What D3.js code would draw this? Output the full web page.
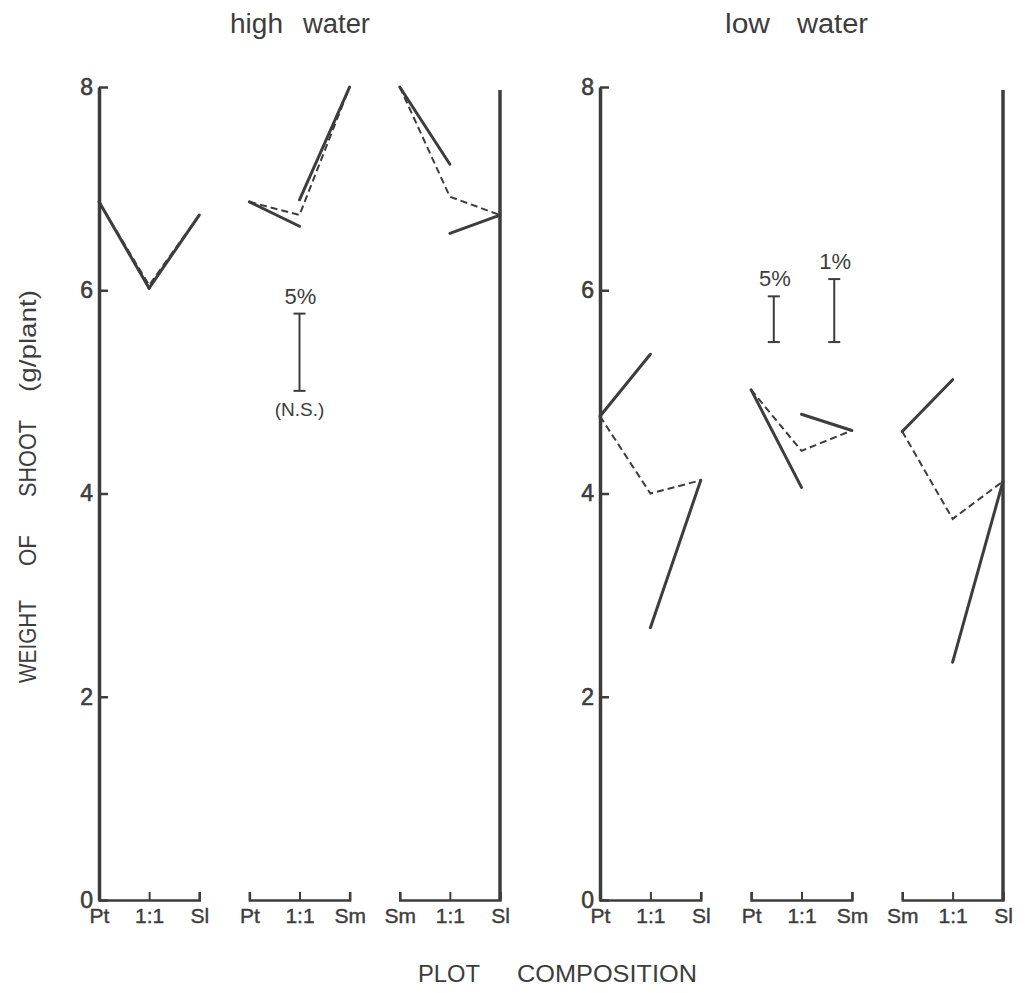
<!DOCTYPE html>
<html><head><meta charset="utf-8">
<script src="https://cdn.jsdelivr.net/npm/d3@7"></script>
<style>
body{margin:0;background:#fff;}
text{font-family:"Liberation Sans",Arial,sans-serif;fill:#3d3d3d;}
</style></head>
<body><svg id="c" width="1026" height="993"></svg>
<script>
// ---- data ----
const panelTitles = ["high", "water", "low", "water"];
const groupCategories = [["Pt","1:1","Sl"],["Pt","1:1","Sm"],["Sm","1:1","Sl"]];
const yTicks = [0, 2, 4, 6, 8];
// per group: monoculture A, A in 1:1 mixture, B in 1:1 mixture, monoculture B
const highMonoA = [6.87, 6.87, 8.00];
const highMixA  = [6.02, 6.63, 7.24];
const highMixB  = [6.02, 6.89, 6.56];
const highMonoB = [6.74, 8.00, 6.74];
const highMean  = [6.05, 6.74, 6.92];
const lowMonoA  = [4.76, 5.02, 4.61];
const lowMixA   = [5.37, 4.06, 5.12];
const lowMixB   = [2.68, 4.78, 2.34];
const lowMonoB  = [4.13, 4.62, 4.12];
const lowMean   = [4.00, 4.42, 3.75];
// LSD bars
const highLSD = [{slot:4, lo:5.01, hi:5.77, top:"5%", bottom:"(N.S.)"}];
const lowLSD  = [{slot:3.45, lo:5.49, hi:5.94, top:"5%", bottom:""},
                 {slot:4.65, lo:5.49, hi:6.11, top:"1%", bottom:""}];
const yTitleWords = ["WEIGHT", "OF", "SHOOT", "(g/plant)"];
const xTitleWords = ["PLOT", "COMPOSITION"];

const ink = "#3d3d3d";
const svg = d3.select("#c");
const y = d3.scaleLinear().domain([0, 8]).range([900, 87]);

const panels = [
  {words:[panelTitles[0], panelTitles[1]], wordX:[[230,283],[303,370]], range:[99, 500], monoA:highMonoA, mixA:highMixA, mixB:highMixB, monoB:highMonoB, mean:highMean, lsd:highLSD},
  {words:[panelTitles[2], panelTitles[3]], wordX:[[725,770],[797,868]], range:[600, 1003], monoA:lowMonoA, mixA:lowMixA, mixB:lowMixB, monoB:lowMonoB, mean:lowMean, lsd:lowLSD}
];

const line = d3.line();

function fitText(sel, x0, x1, yy, size, txt) {
  sel.append("text").attr("x", x0).attr("y", yy).attr("font-size", size)
    .attr("textLength", x1 - x0).attr("lengthAdjust", "spacingAndGlyphs").text(txt);
}

panels.forEach(p => {
  const x = d3.scaleLinear().domain([0, 8]).range(p.range);
  const g = svg.append("g");

  // title
  p.words.forEach((w, i) => fitText(g, p.wordX[i][0], p.wordX[i][1], 33, 27, w));

  // y axis
  const ya = g.append("g").attr("transform", `translate(${x(0)},0)`)
    .call(d3.axisLeft(y).tickValues(yTicks).tickSizeInner(-9).tickSizeOuter(0).tickPadding(6).tickFormat(d3.format("d")));
  ya.select(".domain").attr("stroke", ink).attr("stroke-width", 3.5);
  ya.selectAll(".tick line").attr("stroke", ink).attr("stroke-width", 2.5);
  ya.selectAll(".tick text").attr("font-size", 23).style("fill", ink)
    .attr("stroke", ink).attr("stroke-width", 0.6)
    .attr("font-family", "Liberation Sans, sans-serif");

  // right frame line
  g.append("line").attr("x1", x(8)).attr("x2", x(8)).attr("y1", y(7.97)).attr("y2", y(0))
    .attr("stroke", ink).attr("stroke-width", 3.5);

  // group baselines with category ticks
  groupCategories.forEach((cats, gi) => {
    const xs = d3.scalePoint().domain(cats).range([x(gi*3), x(gi*3+2)]);
    const ax = g.append("g").attr("transform", `translate(0,${y(0)})`)
      .call(d3.axisBottom(xs).tickSizeInner(-8).tickSizeOuter(-8).tickPadding(8));
    ax.select(".domain").attr("stroke", ink).attr("stroke-width", 2.5);
    ax.selectAll(".tick line").attr("stroke", ink).attr("stroke-width", 2);
    ax.selectAll(".tick text").attr("font-size", 21).style("fill", ink)
      .attr("stroke", ink).attr("stroke-width", 0.4)
      .attr("font-family", "Liberation Sans, sans-serif");

    // data lines
    const s0 = gi*3, s1 = gi*3+1, s2 = gi*3+2;
    g.append("path").attr("d", line([[x(s0), y(p.monoA[gi])], [x(s1), y(p.mixA[gi])]]))
      .attr("fill","none").attr("stroke", ink).attr("stroke-width", 3).attr("stroke-linecap","round");
    g.append("path").attr("d", line([[x(s1), y(p.mixB[gi])], [x(s2), y(p.monoB[gi])]]))
      .attr("fill","none").attr("stroke", ink).attr("stroke-width", 3).attr("stroke-linecap","round");
    g.append("path").attr("d", line([[x(s0), y(p.monoA[gi])], [x(s1), y(p.mean[gi])], [x(s2), y(p.monoB[gi])]]))
      .attr("fill","none").attr("stroke", ink).attr("stroke-width", 2).attr("stroke-dasharray","7,4");
  });

  // LSD bars
  p.lsd.forEach(b => {
    const bx = x(b.slot);
    g.append("line").attr("x1", bx).attr("x2", bx).attr("y1", y(b.lo)).attr("y2", y(b.hi)).attr("stroke", ink).attr("stroke-width", 2);
    [b.lo, b.hi].forEach(v => g.append("line").attr("x1", bx-6).attr("x2", bx+6).attr("y1", y(v)).attr("y2", y(v)).attr("stroke", ink).attr("stroke-width", 2));
    g.append("text").attr("x", bx + 1).attr("y", y(b.hi) - 10).attr("text-anchor","middle").attr("font-size", 22).text(b.top);
    if (b.bottom) g.append("text").attr("x", bx).attr("y", y(b.lo) + 25).attr("text-anchor","middle").attr("font-size", 19).text(b.bottom);
  });
});

// y axis title (rotated), words placed along the axis
const yWordSpans = [[600, 683], [535, 566], [420, 497], [290, 392]];
const yt = svg.append("g").attr("transform", "translate(36,0) rotate(-90)");
yTitleWords.forEach((w, i) => {
  const [a, b] = yWordSpans[i];
  yt.append("text").attr("x", -b).attr("y", 0).attr("font-size", 24)
    .attr("textLength", b - a).attr("lengthAdjust", "spacingAndGlyphs").text(w);
});

// x axis title
const xWordSpans = [[418, 480], [517, 697]];
xTitleWords.forEach((w, i) => fitText(svg, xWordSpans[i][0], xWordSpans[i][1], 982, 24, w));
</script></body></html>
